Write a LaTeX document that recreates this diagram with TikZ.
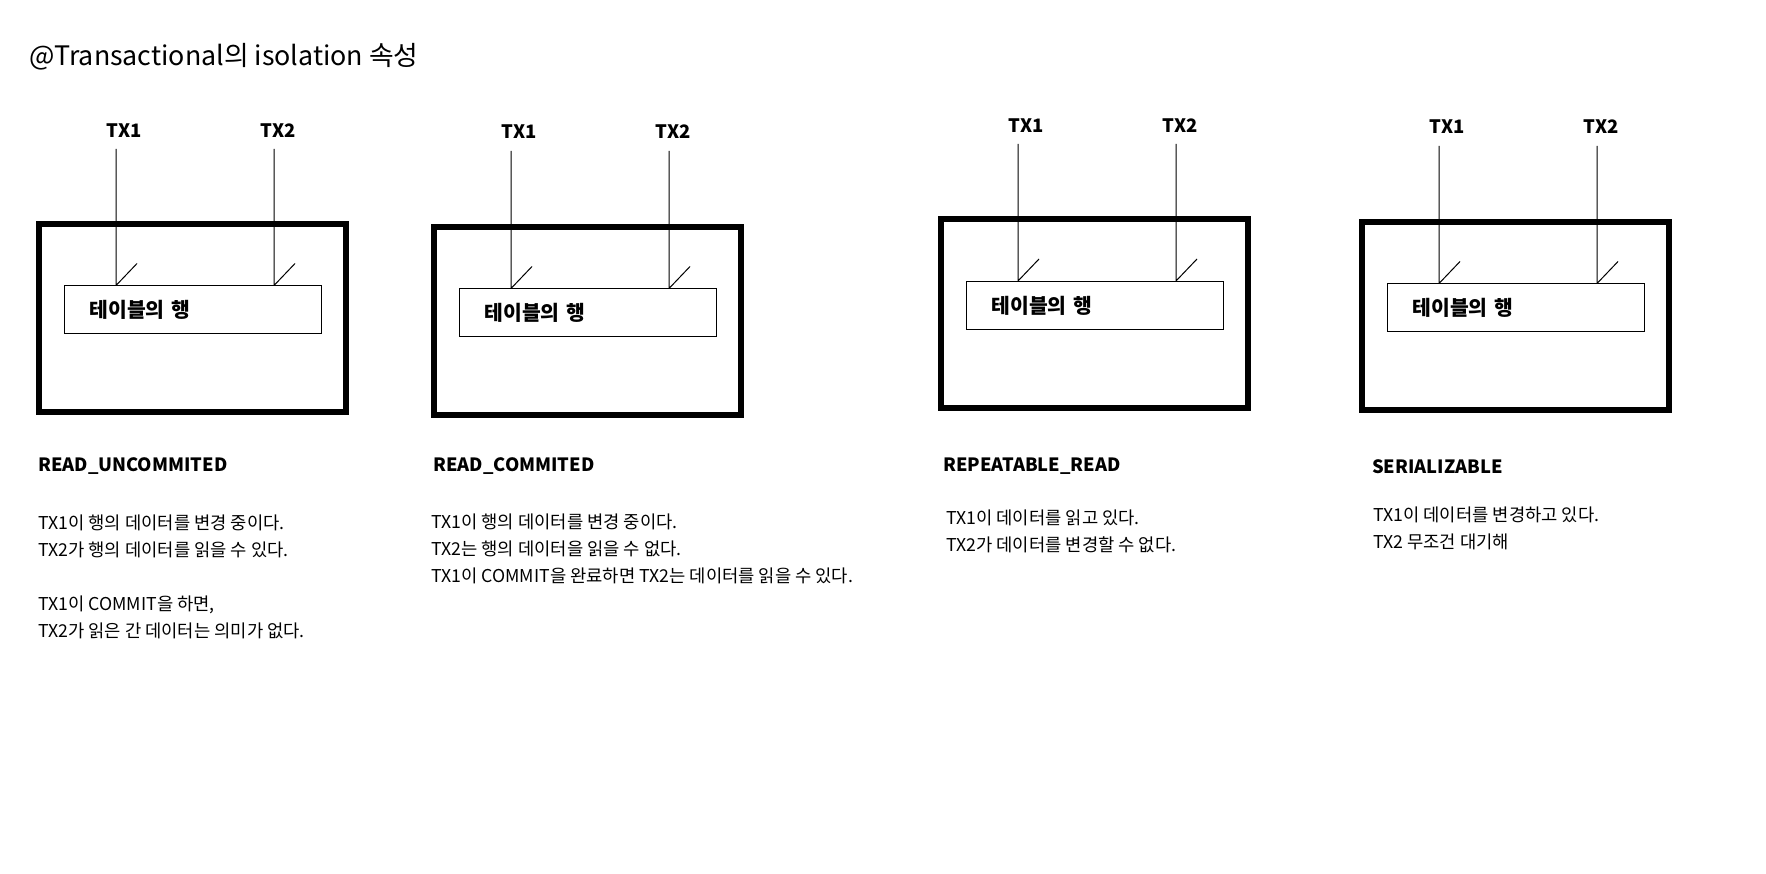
\documentclass[tikz,border=0pt]{standalone}
\usepackage{fontspec}
\setmainfont{Noto Sans CJK KR}
\begin{document}
\begin{tikzpicture}[x=1pt,y=1pt]
\tikzstyle{every node}+=[inner sep=0pt]
\tikzset{
  title/.style={anchor=west,font=\fontsize{26.8}{32}\selectfont},
  outerbox/.style={draw,line width=6pt,minimum width=307pt,minimum height=188pt},
  rowbox/.style={draw,line width=1pt,minimum width=257pt,minimum height=48pt,
    text width=207pt,inner xsep=25pt,align=left,font=\bfseries\fontsize{20.4}{24}\selectfont},
  txlabel/.style={font=\bfseries\fontsize{18.5}{22}\selectfont},
  txline/.style={line width=1pt,line join=round},
  levelname/.style={anchor=west,font=\bfseries\fontsize{18.3}{22}\selectfont},
  levelnote/.style={anchor=west,align=left,font=\fontsize{17.7}{27}\selectfont}
}
\useasboundingbox (0,0) rectangle (1766,-874);

\node[title] (title) at (29,-57) {@Transactional의 isolation 속성};

% READ_UNCOMMITED
\node[outerbox] (ruBox) at (192.5,-318) {};
\node[rowbox] (ruRow) at (193,-310) {테이블의 행};
\node[txlabel] (ruTxa) at (124,-131) {TX1};
\node[txlabel] (ruTxb) at (278,-131) {TX2};
\coordinate (ruTopa) at (116,-149);
\coordinate (ruTopb) at (274,-149);
\draw[txline] (ruTopa) -- (ruTopa |- ruRow.north) -- ++(21,22);
\draw[txline] (ruTopb) -- (ruTopb |- ruRow.north) -- ++(21,22);
\node[levelname] (ruName) at (38,-466) {READ\_UNCOMMITED};
\node[levelnote] (ruNote) at (38,-577) {TX1이 행의 데이터를 변경 중이다.\\TX2가 행의 데이터를 읽을 수 있다.\\[27pt]TX1이 COMMIT을 하면,\\TX2가 읽은 간 데이터는 의미가 없다.};

% READ_COMMITED
\node[outerbox] (rcBox) at (587.5,-321) {};
\node[rowbox] (rcRow) at (588,-313) {테이블의 행};
\node[txlabel] (rcTxa) at (519,-132) {TX1};
\node[txlabel] (rcTxb) at (673,-132) {TX2};
\coordinate (rcTopa) at (511,-151);
\coordinate (rcTopb) at (669,-151);
\draw[txline] (rcTopa) -- (rcTopa |- rcRow.north) -- ++(21,22);
\draw[txline] (rcTopb) -- (rcTopb |- rcRow.north) -- ++(21,22);
\node[levelname] (rcName) at (433,-466) {READ\_COMMITED};
\node[levelnote] (rcNote) at (431,-548.5) {TX1이 행의 데이터를 변경 중이다.\\TX2는 행의 데이터을 읽을 수 없다.\\TX1이 COMMIT을 완료하면 TX2는 데이터를 읽을 수 있다.};

% REPEATABLE_READ
\node[outerbox] (rrBox) at (1094.5,-313.5) {};
\node[rowbox] (rrRow) at (1095,-305.5) {테이블의 행};
\node[txlabel] (rrTxa) at (1026,-126) {TX1};
\node[txlabel] (rrTxb) at (1180,-126) {TX2};
\coordinate (rrTopa) at (1018,-144);
\coordinate (rrTopb) at (1176,-144);
\draw[txline] (rrTopa) -- (rrTopa |- rrRow.north) -- ++(21,22);
\draw[txline] (rrTopb) -- (rrTopb |- rrRow.north) -- ++(21,22);
\node[levelname] (rrName) at (943,-466) {REPEATABLE\_READ};
\node[levelnote] (rrNote) at (946,-531.5) {TX1이 데이터를 읽고 있다.\\TX2가 데이터를 변경할 수 없다.};

% SERIALIZABLE
\node[outerbox] (seBox) at (1515.5,-316) {};
\node[rowbox] (seRow) at (1516,-308) {테이블의 행};
\node[txlabel] (seTxa) at (1447,-127) {TX1};
\node[txlabel] (seTxb) at (1601,-127) {TX2};
\coordinate (seTopa) at (1439,-146);
\coordinate (seTopb) at (1597,-146);
\draw[txline] (seTopa) -- (seTopa |- seRow.north) -- ++(21,22);
\draw[txline] (seTopb) -- (seTopb |- seRow.north) -- ++(21,22);
\node[levelname] (seName) at (1372,-467) {SERIALIZABLE};
\node[levelnote] (seNote) at (1373,-528.5) {TX1이 데이터를 변경하고 있다.\\TX2 무조건 대기해};

\end{tikzpicture}
\end{document}
